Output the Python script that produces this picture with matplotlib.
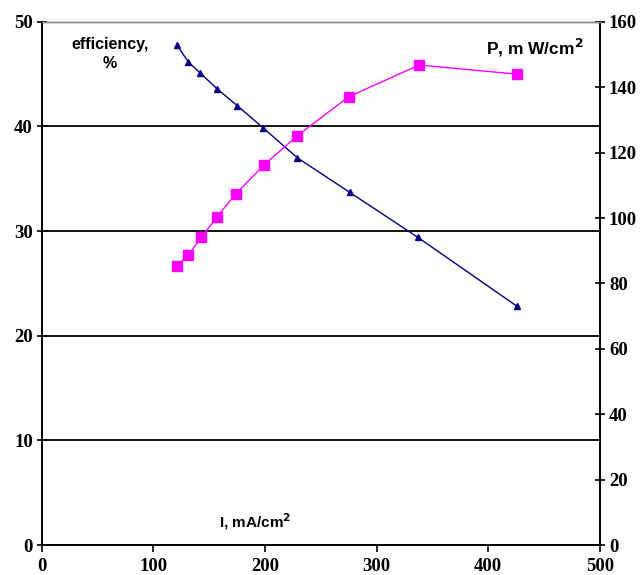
import matplotlib as mpl
mpl.use('Agg')
import matplotlib.pyplot as plt

## Data
current_eff = [121, 131, 142, 157, 175, 198, 229, 276, 337, 426]
efficiency = [47.8, 46.2, 45.1, 43.6, 42.0, 39.9, 37.0, 33.7, 29.4, 22.8]

current_pow = [121, 131, 143, 157, 174, 199, 229, 275, 338, 426]
power = [85.3, 88.7, 94.1, 100.4, 107.5, 116.2, 125.2, 137.1, 146.8, 144.0]

x_ticks = [0, 100, 200, 300, 400, 500]
eff_ticks = [0, 10, 20, 30, 40, 50]
pow_ticks = [0, 20, 40, 60, 80, 100, 120, 140, 160]

serif = 'Liberation Serif'
sans = 'Liberation Sans'

fig = plt.figure(figsize=(6.43, 5.75), dpi=100)
ax1 = fig.add_axes([0.065, 0.052, 0.868, 0.910])
ax2 = ax1.twinx()

# horizontal grid lines
for v in eff_ticks[1:-1]:
    ax1.axhline(v, color='black', lw=1.3, zorder=1)

ax1.plot(current_eff, efficiency, color='#000080', lw=1.0, marker='^',
         markersize=4.5, zorder=3)
ax2.plot(current_pow, power, color='#FF00FF', lw=1.0, marker='s',
         markersize=6.5, zorder=3)

ax1.set_xlim(0, 500)
ax1.set_ylim(0, 50)
ax2.set_ylim(0, 160)
ax1.set_xticks(x_ticks)
ax1.set_yticks(eff_ticks)
ax2.set_yticks(pow_ticks)

for ax in (ax1, ax2):
    for lab in ax.get_xticklabels() + ax.get_yticklabels():
        lab.set_fontfamily(serif)
        lab.set_fontweight('bold')
        lab.set_fontsize(13.5)

ax1.tick_params(axis='x', direction='out', length=5, width=1.2, pad=4)
ax1.tick_params(axis='y', direction='inout', length=7, width=1.2, pad=3)
ax2.tick_params(axis='y', direction='inout', length=7, width=1.2, pad=3)

for ax in (ax1, ax2):
    ax.spines['top'].set_color('#888888')
    ax.spines['top'].set_linewidth(1.0)
    for s in ('left', 'right', 'bottom'):
        ax.spines[s].set_linewidth(1.3)
        ax.spines[s].set_color('black')

ax1.text(61, 46.9, 'efficiency,\n%', ha='center', va='center',
         fontfamily=sans, fontweight='bold', fontsize=11.5, linespacing=1.3)
ax2.text(442, 152, 'P, m W/cm$^\\mathbf{2}$', ha='center', va='center',
         fontfamily=sans, fontweight='bold', fontsize=12.5)
ax1.text(191, 2.2, 'I, mA/cm$^\\mathbf{2}$', ha='center', va='center',
         fontfamily=sans, fontweight='bold', fontsize=11)

fig.savefig('out.png', dpi=100)
